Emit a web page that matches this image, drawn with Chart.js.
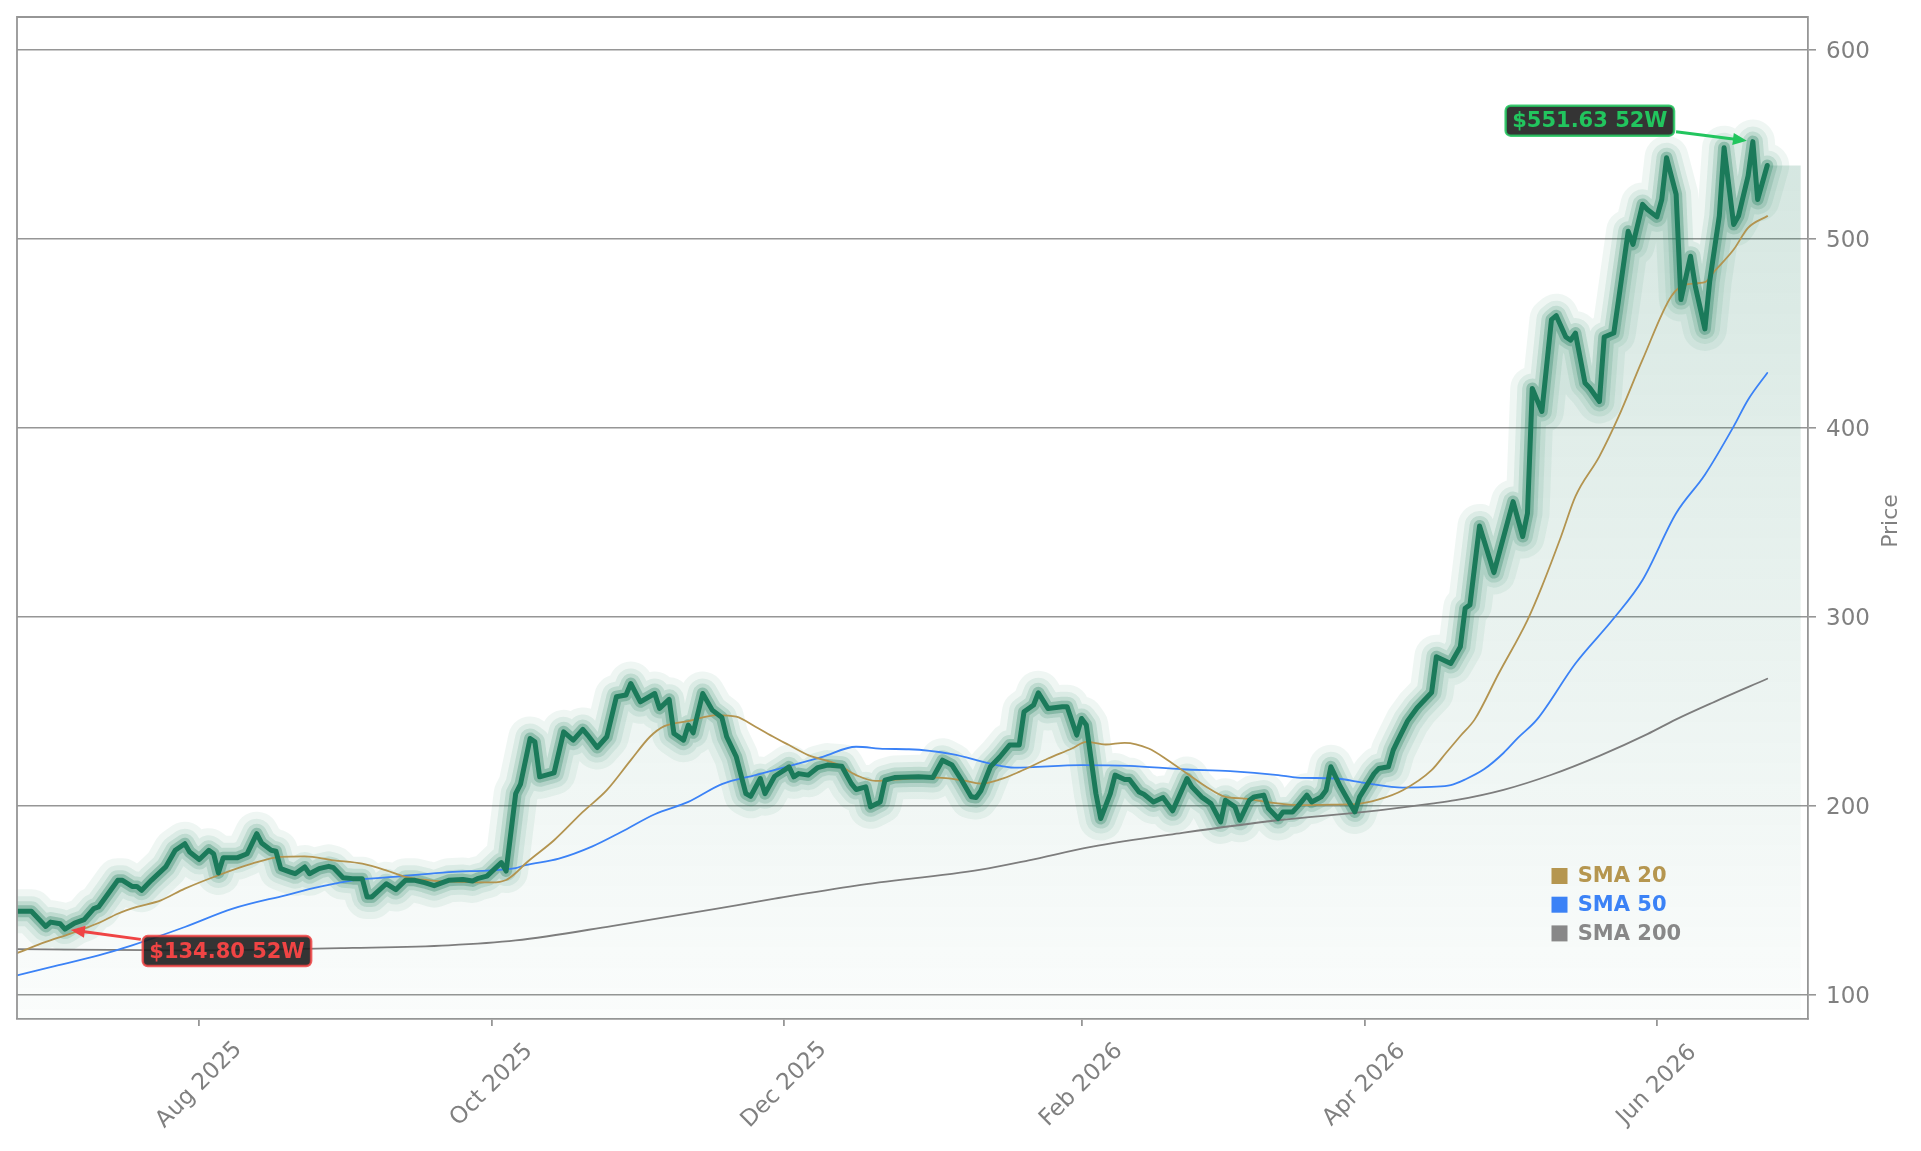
<!DOCTYPE html>
<html>
<head>
<meta charset="utf-8">
<script src="https://cdn.jsdelivr.net/npm/chart.js@4.4.1/dist/chart.umd.min.js"></script>
<style>
html,body{margin:0;padding:0;background:#ffffff;overflow:hidden}
canvas{display:block}
</style>
</head>
<body>
<canvas id="c" width="1921" height="1151"></canvas>
<script>
// ---------------- DATA ----------------
const priceDates = [
'2025-06-24','2025-06-27','2025-06-30','2025-07-01','2025-07-03','2025-07-04','2025-07-06','2025-07-08','2025-07-10','2025-07-11',
'2025-07-13','2025-07-15','2025-07-16','2025-07-18','2025-07-19','2025-07-20','2025-07-22','2025-07-25','2025-07-27','2025-07-29',
'2025-07-30','2025-08-01','2025-08-03','2025-08-04','2025-08-05','2025-08-06','2025-08-09','2025-08-11','2025-08-13','2025-08-14',
'2025-08-16','2025-08-17','2025-08-18','2025-08-20','2025-08-21','2025-08-23','2025-08-24','2025-08-26','2025-08-28','2025-08-29',
'2025-08-31','2025-09-02','2025-09-04','2025-09-05','2025-09-06','2025-09-09','2025-09-11','2025-09-13','2025-09-15','2025-09-17',
'2025-09-19','2025-09-21','2025-09-22','2025-09-25','2025-09-27','2025-09-28','2025-09-30','2025-10-03','2025-10-04','2025-10-06',
'2025-10-07','2025-10-09','2025-10-10','2025-10-11','2025-10-14','2025-10-16','2025-10-18','2025-10-20','2025-10-21','2025-10-23',
'2025-10-25','2025-10-27','2025-10-29','2025-10-30','2025-11-01','2025-11-04','2025-11-05','2025-11-07','2025-11-08','2025-11-10',
'2025-11-11','2025-11-12','2025-11-14','2025-11-16','2025-11-18','2025-11-19','2025-11-21','2025-11-23','2025-11-24','2025-11-26',
'2025-11-27','2025-11-29','2025-12-01','2025-12-02','2025-12-03','2025-12-04','2025-12-06','2025-12-08','2025-12-10','2025-12-13',
'2025-12-15','2025-12-16','2025-12-18','2025-12-19','2025-12-21','2025-12-22','2025-12-24','2025-12-29','2026-01-01','2026-01-03',
'2026-01-05','2026-01-07','2026-01-09','2026-01-10','2026-01-11','2026-01-13','2026-01-15','2026-01-17','2026-01-19','2026-01-20',
'2026-01-22','2026-01-23','2026-01-25','2026-01-28','2026-01-29','2026-01-31','2026-02-01','2026-02-02','2026-02-04','2026-02-05',
'2026-02-07','2026-02-08','2026-02-10','2026-02-11','2026-02-13','2026-02-14','2026-02-16','2026-02-18','2026-02-20','2026-02-23',
'2026-02-24','2026-02-26','2026-02-28','2026-03-02','2026-03-03','2026-03-05','2026-03-06','2026-03-08','2026-03-09','2026-03-11',
'2026-03-12','2026-03-14','2026-03-15','2026-03-17','2026-03-18','2026-03-20','2026-03-21','2026-03-23','2026-03-24','2026-03-25',
'2026-03-27','2026-03-28','2026-03-30','2026-03-31','2026-04-03','2026-04-04','2026-04-06','2026-04-07','2026-04-08','2026-04-10',
'2026-04-12','2026-04-15','2026-04-16','2026-04-19','2026-04-21','2026-04-22','2026-04-23','2026-04-25','2026-04-28','2026-05-02',
'2026-05-04','2026-05-05','2026-05-06','2026-05-08','2026-05-10','2026-05-11','2026-05-13','2026-05-14','2026-05-15','2026-05-17',
'2026-05-18','2026-05-20','2026-05-21','2026-05-23','2026-05-24','2026-05-26','2026-05-27','2026-05-29','2026-05-30','2026-06-01',
'2026-06-02','2026-06-03','2026-06-05','2026-06-06','2026-06-08','2026-06-09','2026-06-11','2026-06-12','2026-06-14','2026-06-15',
'2026-06-17','2026-06-18','2026-06-20','2026-06-21','2026-06-22','2026-06-24'
];
const priceValues = [
144.2,144.2,136.2,138.5,137.6,134.8,138,139.8,145.6,146.5,
153.5,160.6,160.6,157.4,157.4,155.3,160.6,167.7,176.5,180,
175.6,171.6,176.5,174.7,164.5,172.6,172.6,174.7,185.3,180.4,
176.5,176,166.8,165,164.1,167.7,164.1,166.8,168,167.3,
162,161.5,161.5,151.8,151.8,158.8,155.7,160.6,160.6,159.4,
157.8,159.7,160.6,161,160.3,161.5,162.8,170,165.5,206.5,
211.5,235.7,233.9,215.4,217.5,239.2,234.8,240.5,237.5,230.9,
236.6,257.8,258.7,264.8,255.1,259.5,251.6,256.4,238.3,234.8,
242.8,238.7,259.5,250.7,246.8,236.6,226,206.5,205.1,214.5,
206.5,215.7,218.9,220.7,215.4,217.1,216.3,220.3,221.6,221,
211.8,208.7,210.1,199.5,202.1,213.6,215,215.4,215,224.2,
221.6,213.6,204.8,204.4,208,220.7,226,232.2,232.2,249.8,
253.4,259.9,251.6,252.5,252.5,237.5,246.3,242.8,206.5,193.3,
206.5,216.3,214,214,207.4,206.2,202.1,204.4,197.4,214.5,
210.1,204.8,201.2,191.5,203,199.5,192.4,203,204.8,205.7,
198.6,193.3,196.8,196.8,199.5,205.7,202.1,204.8,208.3,220.7,
210.1,205.7,196.8,204.8,217.1,219.8,220.7,229.5,234.8,245,
252,260,279,275.4,284.3,304.6,306.4,348.2,323.5,361.1,
342.6,354.9,421,408.8,457.4,459.5,448.2,446.5,450.3,423.8,
421.2,414.1,448.2,450.3,468,504.2,497.2,518.4,515.7,511.8,
521,543.1,523.7,468,491,475.1,452.5,477.7,512.2,548.4,
507.8,512.2,533.4,551.63,521,539
];

const sma20Dates = [
'2025-06-24','2025-06-30','2025-07-05','2025-07-11','2025-07-15','2025-07-19','2025-07-24','2025-07-29','2025-08-05','2025-08-12',
'2025-08-18','2025-08-23','2025-08-29','2025-09-04','2025-09-09','2025-09-13','2025-09-19','2025-09-26','2025-10-01','2025-10-04',
'2025-10-06','2025-10-08','2025-10-14','2025-10-20','2025-10-25','2025-10-30','2025-11-03','2025-11-06','2025-11-11','2025-11-17',
'2025-11-21','2025-11-25','2025-11-29','2025-12-02','2025-12-06','2025-12-12','2025-12-16','2025-12-20','2025-12-27','2026-01-02',
'2026-01-07','2026-01-11','2026-01-15','2026-01-19','2026-01-25','2026-01-30','2026-02-02','2026-02-06','2026-02-10','2026-02-15',
'2026-02-19','2026-02-23','2026-02-27','2026-03-03','2026-03-07','2026-03-13','2026-03-18','2026-03-25','2026-03-30','2026-04-04',
'2026-04-09','2026-04-15','2026-04-18','2026-04-21','2026-04-24','2026-04-29','2026-05-05','2026-05-08','2026-05-12','2026-05-15',
'2026-05-20','2026-05-24','2026-05-29','2026-06-04','2026-06-07','2026-06-11','2026-06-13','2026-06-17','2026-06-20','2026-06-24'
];
const sma20Values = [
122.1,128,132.3,138,142.9,146.5,150,156.2,163.3,169.4,
173,173.3,171.2,169.4,165.9,162.4,160.3,159.7,159.5,160.8,
164.5,169.4,181.8,196.8,208.3,224.2,236.6,242.2,244.9,248.1,
247.2,241.9,236.2,232.2,226.9,222.1,216.3,213.3,214.5,215,
213.6,211.8,214,218,225.1,230.4,233.9,232.5,233.4,230.4,
224.2,217.1,210.1,204.8,203.9,201.6,200.4,200.7,200.9,203.4,
208.3,218.9,228,237,245.8,270.1,298.4,316.1,342.6,363.8,
385,406,436.2,469.8,476,477.2,483,494.5,506,512.2
];

const sma50Dates = [
'2025-06-24','2025-07-01','2025-07-11','2025-07-18','2025-07-29','2025-08-08','2025-08-19','2025-08-26','2025-09-02','2025-09-12',
'2025-09-22','2025-10-01','2025-10-06','2025-10-08','2025-10-15','2025-10-22','2025-10-28','2025-11-04','2025-11-11','2025-11-18',
'2025-11-25','2025-12-02','2025-12-09','2025-12-16','2025-12-22','2025-12-27','2026-01-05','2026-01-13','2026-01-18','2026-02-01',
'2026-02-11','2026-02-22','2026-03-04','2026-03-14','2026-03-18','2026-03-26','2026-04-01','2026-04-09','2026-04-15','2026-04-19',
'2026-04-22','2026-04-26','2026-04-30','2026-05-03','2026-05-07','2026-05-15','2026-05-23','2026-05-29','2026-06-05','2026-06-11',
'2026-06-17','2026-06-20','2026-06-24'
];
const sma50Values = [
110.3,114.7,120.9,126.2,135.9,145.6,152.7,157.1,160.6,162.7,
165,165.9,167.1,168.6,172.1,178.6,186.2,195.6,202.1,211.5,
216.3,221,226,231.3,230.2,230,227.4,222.4,220.3,221.6,
221.2,219.4,218.4,216.3,215,214.5,212.2,209.7,210.1,211,
214,219.5,228,236,245.8,275.4,299.3,319.6,354.9,375.3,
400.9,415,429.2
];

const sma200Dates = [
'2025-06-24','2025-07-29','2025-09-02','2025-09-22','2025-10-06','2025-10-26','2025-11-21','2025-11-29','2025-12-16','2026-01-11',
'2026-01-21','2026-02-03','2026-02-22','2026-03-14','2026-04-01','2026-04-15','2026-04-20','2026-04-30','2026-05-10','2026-05-20',
'2026-05-30','2026-06-05','2026-06-13','2026-06-24'
];
const sma200Values = [
124.2,123.5,124.8,126.2,128.8,136.4,147.4,150.9,157.8,166.3,
171.2,178.3,185.7,192.4,196.8,201.2,203,208.5,216.5,226.5,
238,245.8,255.1,267.3
];

const seriesNames = ['SMA 20', 'SMA 50', 'SMA 200'];
const xTickDates = ['2025-08-01','2025-10-01','2025-12-01','2026-02-01','2026-04-01','2026-06-01'];
const xTickLabels = ['Aug 2025','Oct 2025','Dec 2025','Feb 2026','Apr 2026','Jun 2026'];
const yTickValues = [100, 200, 300, 400, 500, 600];
const yAxisTitle = 'Price';
const yMin = 87.2, yMax = 617.6;
const xAxisStart = '2025-06-24', xAxisEnd = '2026-07-02T12:00:00Z';
const fillEndDate = '2026-07-01';

// ---------------- STYLE ----------------
const GREEN = '#1b7a5a';
const smaColors = ['#b39450', '#3b82f6', '#7d7d7d'];
const legendColors = ['#b5964f', '#3b82f6', '#888888'];
const AXIS = '#969696';
const TEXT = '#808080';
const FONT = '"DejaVu Sans", "Liberation Sans", sans-serif';

const day = s => Date.parse(s.length > 10 ? s : s + 'T00:00:00Z') / 864e5;
const pts = (dates, vals) => dates.map((d, i) => ({ x: day(d), y: vals[i] }));

const pricePts = pts(priceDates, priceValues);
const fillPts = pricePts.concat([{ x: day(fillEndDate), y: priceValues[priceValues.length - 1] }]);

const glow = [
  { w: 44, a: 0.07 },
  { w: 30, a: 0.09 },
  { w: 20, a: 0.15 },
  { w: 12, a: 0.30 }
];

const datasets = [];
datasets.push({ label: 'Price', data: pricePts, borderColor: GREEN, borderWidth: 5, order: 0 });
[[sma20Dates, sma20Values], [sma50Dates, sma50Values], [sma200Dates, sma200Values]].forEach((s, i) => {
  datasets.push({ label: seriesNames[i], data: pts(s[0], s[1]), borderColor: smaColors[i], borderWidth: 1.8,
    cubicInterpolationMode: 'monotone', order: 1 + i });
});
glow.forEach((g, i) => {
  datasets.push({ label: 'glow' + i, data: pricePts, borderColor: `rgba(27,122,90,${g.a})`, borderWidth: g.w, order: 10 + i });
});
datasets.push({
  label: 'area', data: fillPts, borderWidth: 0, borderColor: 'rgba(0,0,0,0)', fill: 'start', order: 20,
  backgroundColor: (c) => {
    const ch = c.chart, a = ch.chartArea;
    if (!a) return 'rgba(27,122,90,0.08)';
    const g = ch.ctx.createLinearGradient(0, a.top, 0, a.bottom);
    g.addColorStop(0, 'rgba(27,122,90,0.21)');
    g.addColorStop(1, 'rgba(27,122,90,0.02)');
    return g;
  }
});
datasets.forEach(d => {
  d.pointRadius = 0; d.pointHoverRadius = 0; d.clip = 0;
  if (!d.cubicInterpolationMode) d.tension = 0;
  d.borderJoinStyle = 'round'; d.borderCapStyle = 'round';
  if (!d.fill) d.fill = false;
});

function callout(ctx, px, py, text, color, dx, dy) {
  ctx.save();
  ctx.font = 'bold 21px ' + FONT;
  const tw = ctx.measureText(text).width;
  const w = tw + 13, h = 30;
  const cx = px + dx, cy = py + dy;
  const vx = px - cx, vy = py - cy, len = Math.hypot(vx, vy);
  const ux = vx / len, uy = vy / len;
  const t = Math.min((w / 2) / Math.max(Math.abs(ux), 1e-6), (h / 2) / Math.max(Math.abs(uy), 1e-6));
  const sx = cx + ux * (t + 2), sy = cy + uy * (t + 2);
  const ex = px - ux * 6, ey = py - uy * 6;
  const head = 14, hw = 6;
  const bx = ex - ux * head, by = ey - uy * head;
  ctx.strokeStyle = color; ctx.lineWidth = 3; ctx.lineCap = 'butt';
  ctx.beginPath(); ctx.moveTo(sx, sy); ctx.lineTo(bx + ux * 2, by + uy * 2); ctx.stroke();
  ctx.fillStyle = color;
  ctx.beginPath(); ctx.moveTo(ex, ey); ctx.lineTo(bx - uy * hw, by + ux * hw); ctx.lineTo(bx + uy * hw, by - ux * hw); ctx.closePath(); ctx.fill();
  ctx.beginPath();
  ctx.roundRect(cx - w / 2, cy - h / 2, w, h, 5);
  ctx.fillStyle = 'rgba(30,30,30,0.9)'; ctx.fill();
  ctx.globalAlpha = 0.85; ctx.lineWidth = 2.5; ctx.strokeStyle = color; ctx.stroke(); ctx.globalAlpha = 1;
  ctx.fillStyle = color; ctx.textAlign = 'center'; ctx.textBaseline = 'middle';
  ctx.fillText(text, cx, cy + 1);
  ctx.restore();
}

const decor = {
  id: 'decor',
  afterDraw(chart) {
    const { ctx, chartArea: a, scales } = chart;
    const xs = scales.x, ys = scales.y;
    ctx.save();
    // top & left spines
    ctx.strokeStyle = AXIS; ctx.lineWidth = 1.8;
    ctx.beginPath(); ctx.moveTo(a.left, a.bottom); ctx.lineTo(a.left, a.top); ctx.lineTo(a.right, a.top); ctx.stroke();
    // x tick labels (rotated, centred on tick)
    ctx.fillStyle = TEXT; ctx.font = '23px ' + FONT; ctx.textAlign = 'center'; ctx.textBaseline = 'middle';
    xTickDates.forEach((d, i) => {
      const px = xs.getPixelForValue(day(d));
      ctx.save(); ctx.translate(px, a.bottom + 66); ctx.rotate(-Math.PI / 4); ctx.fillText(xTickLabels[i], 0, 0); ctx.restore();
    });
    // y axis title
    ctx.font = '22px ' + FONT;
    ctx.save(); ctx.translate(a.right + 83, (a.top + a.bottom) / 2 + 3); ctx.rotate(-Math.PI / 2); ctx.fillText(yAxisTitle, 0, 0); ctx.restore();
    // legend
    ctx.font = 'bold 21px ' + FONT; ctx.textAlign = 'left'; ctx.textBaseline = 'middle';
    seriesNames.forEach((n, i) => {
      const yy = a.bottom - 143 + i * 28.7;
      ctx.fillStyle = legendColors[i];
      ctx.fillRect(a.right - 256.5, yy - 8, 16, 16);
      ctx.fillText(n, a.right - 230.3, yy + 1);
    });
    // 52W high / low callouts
    let hi = 0, lo = 0;
    priceValues.forEach((v, i) => { if (v > priceValues[hi]) hi = i; if (v < priceValues[lo]) lo = i; });
    const hx = xs.getPixelForValue(day(priceDates[hi])), hy = ys.getPixelForValue(priceValues[hi]);
    const lx = xs.getPixelForValue(day(priceDates[lo])), ly = ys.getPixelForValue(priceValues[lo]);
    callout(ctx, hx, hy, '$' + priceValues[hi].toFixed(2) + ' 52W', '#22c55e', -163, -21);
    callout(ctx, lx, ly, '$' + priceValues[lo].toFixed(2) + ' 52W', '#ef4444', 162, 22);
    ctx.restore();
  }
};

Chart.defaults.font.family = FONT;

new Chart(document.getElementById('c'), {
  type: 'line',
  data: { datasets },
  options: {
    responsive: false,
    animation: false,
    devicePixelRatio: 1,
    layout: { padding: { left: 17, top: 17, right: 0, bottom: 0 } },
    plugins: { legend: { display: false }, tooltip: { enabled: false } },
    scales: {
      x: {
        type: 'linear',
        min: day(xAxisStart),
        max: day(xAxisEnd),
        afterBuildTicks: s => { s.ticks = xTickDates.map(d => ({ value: day(d) })); },
        afterFit: s => { s.height = 132; s.paddingLeft = 0; s.paddingRight = 0; },
        ticks: { display: false },
        grid: { drawOnChartArea: false, drawTicks: true, tickLength: 7, color: AXIS, lineWidth: 1.8 },
        border: { display: true, color: AXIS, width: 1.8 }
      },
      y: {
        type: 'linear',
        position: 'right',
        min: yMin,
        max: yMax,
        afterBuildTicks: s => { s.ticks = yTickValues.map(v => ({ value: v })); },
        afterFit: s => { s.width = 113; s.paddingTop = 0; s.paddingBottom = 0; },
        ticks: { color: TEXT, font: { size: 23 }, padding: 10, labelOffset: 2 },
        grid: { color: AXIS, lineWidth: 1.6, tickLength: 8, drawTicks: true },
        border: { display: true, color: AXIS, width: 1.8 }
      }
    }
  },
  plugins: [decor]
});
</script>
</body>
</html>
